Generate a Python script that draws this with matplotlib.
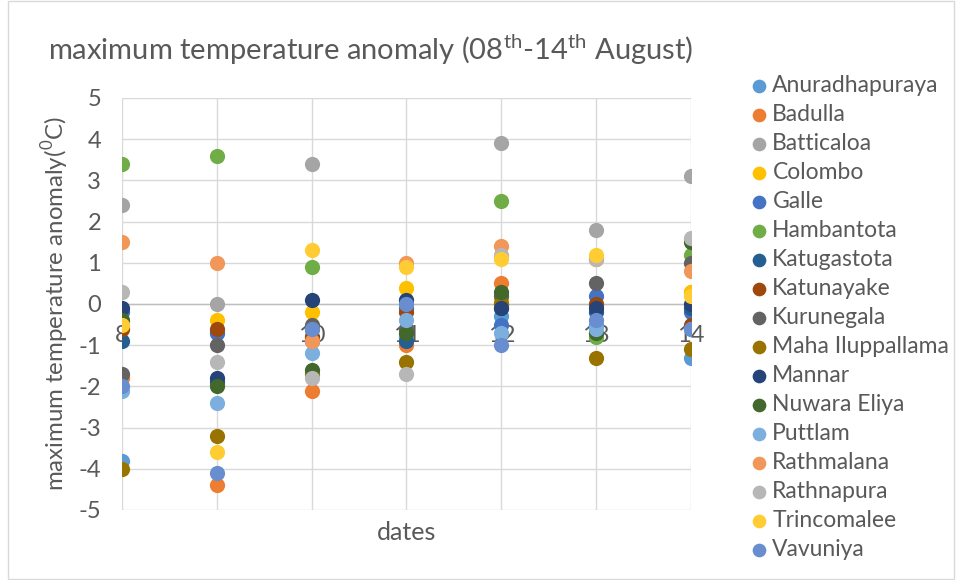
import matplotlib.pyplot as plt
from matplotlib.patches import Rectangle

plt.rcParams["font.family"] = ["Lato", "DejaVu Sans"]
plt.rcParams["mathtext.fontset"] = "custom"
plt.rcParams["mathtext.rm"] = "Lato"
plt.rcParams["axes.unicode_minus"] = False

dates = [8, 9, 10, 11, 12, 13, 14]

stations = [
    "Anuradhapuraya", "Badulla", "Batticaloa", "Colombo", "Galle", "Hambantota",
    "Katugastota", "Katunayake", "Kurunegala", "Maha Iluppallama", "Mannar",
    "Nuwara Eliya", "Puttlam", "Rathmalana", "Rathnapura", "Trincomalee", "Vavuniya",
]

anuradhapuraya = [-3.8, -0.7, -0.8, -0.8, -0.3, -0.5, -1.3]
badulla = [-1.8, -4.4, -2.1, -1.0, 0.5, 0.0, 0.3]
batticaloa = [2.4, 0.0, 3.4, 0.1, 3.9, 1.8, 3.1]
colombo = [-0.6, -0.4, -0.2, 0.4, 0.1, 1.1, 0.3]
galle = [-0.2, -0.7, -0.6, -0.1, -0.5, 0.2, -0.2]
hambantota = [3.4, 3.6, 0.9, -0.6, 2.5, -0.8, 1.2]
katugastota = [-0.9, -1.9, -0.9, -0.9, -0.1, -0.2, -0.1]
katunayake = [-0.6, -0.6, -0.8, -0.2, 0.0, 0.0, -0.5]
kurunegala = [-1.7, -1.0, -0.5, -0.6, 0.2, 0.5, 1.0]
maha_iluppallama = [-4.0, -3.2, -1.7, -1.4, 0.0, -1.3, -1.1]
mannar = [-0.1, -1.8, 0.1, 0.1, -0.1, -0.1, 0.0]
nuwara_eliya = [-0.4, -2.0, -1.6, -0.7, 0.3, -0.7, 1.5]
puttlam = [-2.1, -2.4, -1.2, -0.4, -0.7, -0.6, -0.6]
rathmalana = [1.5, 1.0, -0.9, 1.0, 1.4, 1.1, 0.8]
rathnapura = [0.3, -1.4, -1.8, -1.7, 1.2, 1.1, 1.6]
trincomalee = [-0.5, -3.6, 1.3, 0.9, 1.1, 1.2, 0.2]
vavuniya = [-2.0, -4.1, -0.6, 0.0, -1.0, -0.4, -0.6]

series = [
    anuradhapuraya, badulla, batticaloa, colombo, galle, hambantota,
    katugastota, katunayake, kurunegala, maha_iluppallama, mannar,
    nuwara_eliya, puttlam, rathmalana, rathnapura, trincomalee, vavuniya,
]

colors = [
    "#5B9BD5", "#ED7D31", "#A5A5A5", "#FFC000", "#4472C4", "#70AD47",
    "#255E91", "#9E480E", "#636363", "#997300", "#264478", "#43682B",
    "#7CAFDD", "#F1975A", "#B7B7B7", "#FFCD33", "#698ED0",
]

text_color = "#595959"
grid_color = "#D9D9D9"

fig = plt.figure(figsize=(9.6, 5.8), dpi=100)
ax = fig.add_axes([122 / 960, 70 / 580, 569 / 960, 412 / 580])

for name, vals, c in zip(stations, series, colors):
    ax.scatter(dates, vals, s=120, color=c, label=name, zorder=3, linewidths=0)

ax.set_xlim(8, 14)
ax.set_ylim(-5, 5)
ax.set_yticks(range(-5, 6))
ax.set_xticks([8, 9, 10, 11, 12, 13, 14])
ax.grid(True, color=grid_color, linewidth=1)
ax.axhline(0, color="#BFBFBF", linewidth=1, zorder=2)
ax.set_axisbelow(True)

for s in ax.spines.values():
    s.set_visible(False)
ax.spines["bottom"].set_position(("data", 0))
ax.tick_params(axis="x", length=0, pad=15, labelsize=17, labelcolor=text_color)
ax.tick_params(axis="y", length=0, pad=15, labelsize=17, labelcolor=text_color)
for lbl in ax.get_xticklabels():
    lbl.set_zorder(1)

ax.set_ylabel(r"maximum temperature anomaly($^{\mathrm{0}}$C)", fontsize=17.3,
              color=text_color, labelpad=5)

fig.text(407 / 960, 1 - 532 / 580, "dates", fontsize=18, color=text_color,
         ha="center", va="center")
fig.text(48 / 960, 1 - 50 / 580,
         r"maximum temperature anomaly (08$^{\mathrm{th}}$-14$^{\mathrm{th}}$ August)",
         fontsize=21, color=text_color, ha="left", va="center")

leg = fig.legend(loc="upper left", bbox_to_anchor=(738 / 960, 1 - 66 / 580),
                 frameon=False, fontsize=16.5, handletextpad=0.1,
                 labelspacing=0.35, borderaxespad=0, handlelength=1.0,
                 scatterpoints=1, markerscale=0.9)
for t in leg.get_texts():
    t.set_color(text_color)

fig.patches.append(Rectangle((8 / 960, 0.002), 946 / 960, 0.996, transform=fig.transFigure,
                             fill=False, edgecolor=grid_color, linewidth=1))

fig.savefig("out.png", dpi=100)
